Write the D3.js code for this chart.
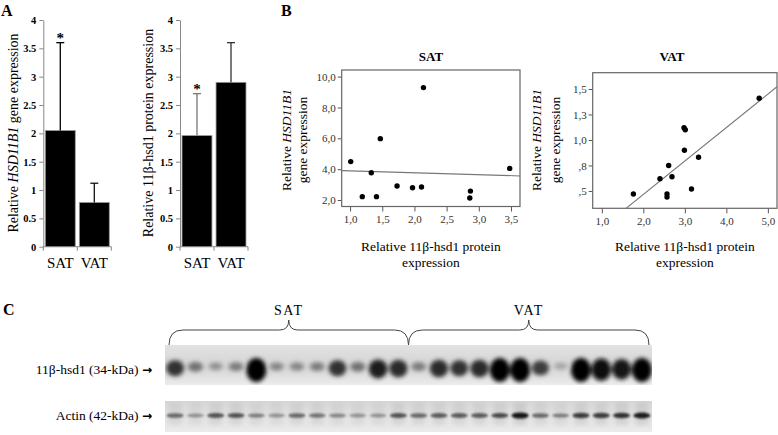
<!DOCTYPE html>
<html>
<head>
<meta charset="utf-8">
<script src="https://cdn.jsdelivr.net/npm/d3@7"></script>
<style>
  body { margin: 0; background: #fff; }
  svg { display: block; }
  text { font-family: 'Liberation Serif', 'Times New Roman', serif; }
  tspan.arrow { font-family: 'DejaVu Sans', sans-serif; font-weight: bold; }
</style>
</head>
<body>
<svg id="fig" width="778" height="435"></svg>
<script>
// ---- panel A : bar values (mean and top of error bar)
const barGroups = ['SAT', 'VAT'];
const geneMean = [2.05, 0.78];
const geneErrTop = [3.6, 1.12];
const proteinMean = [1.96, 2.9];
const proteinErrTop = [2.7, 3.6];
const barTicks = [0, 0.5, 1, 1.5, 2, 2.5, 3, 3.5, 4];

// ---- panel B : scatter points (protein, gene) and fitted lines [intercept, slope]
const satProtein = [1.01, 1.19, 1.33, 1.41, 1.47, 1.73, 1.97, 2.11, 2.14, 2.86, 2.87, 3.48];
const satGene    = [4.49, 2.22, 3.77, 2.22, 5.98, 2.91, 2.80, 2.84, 9.29, 2.13, 2.58, 4.05];
const vatProtein = [1.76, 2.40, 2.61, 2.69, 2.57, 2.57, 2.99, 2.98, 3.01, 3.16, 3.33, 4.79];
const vatGene    = [0.47, 0.62, 0.75, 0.64, 0.47, 0.44, 0.90, 1.12, 1.10, 0.52, 0.83, 1.41];
const satFit = [4.01, -0.123];
const vatFit = [-0.19, 0.328];
const satXTicks = [1.0, 1.5, 2.0, 2.5, 3.0, 3.5];
const satYTicks = [2, 4, 6, 8, 10];
const vatXTicks = [1, 2, 3, 4, 5];
const vatYTicks = [0.5, 0.75, 1.0, 1.25, 1.5];

// ---- panel C : band darkness per lane (12 SAT then 12 VAT)
const laneGroups = ['SAT', 'VAT'];
const hsdBand   = [0.75, 0.45, 0.3, 0.4, 1.0, 0.35, 0.35, 0.4, 0.75, 0.45, 0.85, 0.8,
                   0.4, 0.8, 0.75, 0.8, 1.0, 1.0, 0.7, 0.2, 1.0, 0.95, 0.9, 1.0];
const actinBand = [0.5, 0.3, 0.6, 0.6, 0.4, 0.3, 0.5, 0.45, 0.35, 0.3, 0.3, 0.6,
                   0.5, 0.55, 0.55, 0.55, 0.65, 0.9, 0.5, 0.4, 0.7, 0.7, 0.75, 0.85];

const svg = d3.select('#fig');
svg.append('rect').attr('width', 778).attr('height', 435).attr('fill', '#fff');

const spss = v => d3.format('.1f')(v).replace('.', ',').replace(/^0,/, ',');

function rotLabel(g, x, y, parts, size) {
    const t = g.append('text')
        .attr('transform', `translate(${x},${y}) rotate(-90)`)
        .attr('text-anchor', 'middle')
        .attr('font-size', size);
    parts.forEach(p => t.append('tspan').attr('font-style', p[1] ? 'italic' : null).text(p[0]));
    return t;
}

// panel letters
svg.append('text').attr('x', 1).attr('y', 16).attr('font-size', 16).attr('font-weight', 'bold').text('A');
svg.append('text').attr('x', 281).attr('y', 16).attr('font-size', 16).attr('font-weight', 'bold').text('B');
svg.append('text').attr('x', 3).attr('y', 315).attr('font-size', 16).attr('font-weight', 'bold').text('C');

// ================= A
const yBar = d3.scaleLinear().domain([0, 4]).range([246.7, 20]);

function drawBars(axisX, means, errTops, errColors, labelParts, labelX) {
    const g = svg.append('g');
    const x = d3.scaleBand()
        .domain(barGroups)
        .range([axisX + 1, axisX + 67])
        .paddingInner(0.12)
        .paddingOuter(0.03);

    const ya = g.append('g')
        .attr('transform', `translate(${axisX},0)`)
        .call(d3.axisLeft(yBar).tickValues(barTicks).tickSize(4).tickSizeOuter(0).tickPadding(3)
            .tickFormat(d => d));
    ya.select('.domain').attr('stroke', '#888');
    ya.selectAll('.tick line').attr('stroke', '#888');
    ya.selectAll('.tick text')
        .attr('font-size', 10.5)
        .attr('font-weight', 'bold')
        .attr('fill', '#000');

    // x axis line and boundary ticks
    g.append('line')
        .attr('x1', axisX).attr('x2', axisX + 68)
        .attr('y1', yBar(0)).attr('y2', yBar(0))
        .attr('stroke', '#888');
    const bounds = [axisX, x('VAT') - x.step() * x.paddingInner() / 2, axisX + 68];
    g.selectAll('.bt').data(bounds).join('line')
        .attr('x1', d => d).attr('x2', d => d)
        .attr('y1', yBar(0)).attr('y2', yBar(0) + 4)
        .attr('stroke', '#888');

    g.selectAll('.bar').data(barGroups).join('rect')
        .attr('x', d => x(d))
        .attr('width', x.bandwidth())
        .attr('y', (d, i) => yBar(means[i]))
        .attr('height', (d, i) => yBar(0) - yBar(means[i]))
        .attr('fill', '#000')
        .attr('stroke', '#999')
        .attr('stroke-width', 0.8);

    // error bars (upper only)
    barGroups.forEach((d, i) => {
        const cx = x(d) + x.bandwidth() / 2;
        g.append('line')
            .attr('x1', cx).attr('x2', cx)
            .attr('y1', yBar(means[i])).attr('y2', yBar(errTops[i]))
            .attr('stroke', errColors[i]).attr('stroke-width', 1.3);
        g.append('line')
            .attr('x1', cx - 4).attr('x2', cx + 4)
            .attr('y1', yBar(errTops[i])).attr('y2', yBar(errTops[i]))
            .attr('stroke', errColors[i]).attr('stroke-width', 1.3);
    });

    // significance star on SAT
    g.append('text')
        .attr('x', x('SAT') + x.bandwidth() / 2)
        .attr('y', yBar(errTops[0]) + 0.5)
        .attr('text-anchor', 'middle')
        .attr('font-size', 15)
        .attr('font-weight', 'bold')
        .text('*');

    g.selectAll('.cat').data(barGroups).join('text')
        .attr('x', d => x(d) + x.bandwidth() / 2)
        .attr('y', 268)
        .attr('text-anchor', 'middle')
        .attr('font-size', 15)
        .text(d => d);

    rotLabel(g, labelX, 133, labelParts, 14);
}

drawBars(43.3, geneMean, geneErrTop, ['#000', '#111'],
    [['Relative '], ['HSD11B1', true], [' gene expression']], 18);
drawBars(180, proteinMean, proteinErrTop, ['#777', '#333'],
    [['Relative 11β-hsd1 protein expression']], 153);

// ================= B
function drawScatter(o) {
    const g = svg.append('g');
    const x = d3.scaleLinear().domain(o.xDomain).range(o.xRange);
    const y = d3.scaleLinear().domain(o.yDomain).range(o.yRange);
    const id = 'clip' + o.title;

    g.append('clipPath').attr('id', id).append('rect')
        .attr('x', o.xRange[0]).attr('y', o.yRange[1])
        .attr('width', o.xRange[1] - o.xRange[0])
        .attr('height', o.yRange[0] - o.yRange[1]);

    const xa = g.append('g')
        .attr('transform', `translate(0,${o.yRange[0]})`)
        .call(d3.axisBottom(x).tickValues(o.xTicks).tickSize(5).tickSizeOuter(0).tickPadding(4).tickFormat(spss));
    const ya = g.append('g')
        .attr('transform', `translate(${o.xRange[0]},0)`)
        .call(d3.axisLeft(y).tickValues(o.yTicks).tickSize(4).tickSizeOuter(0).tickPadding(2).tickFormat(spss));
    [xa, ya].forEach(a => {
        a.select('.domain').remove();
        a.selectAll('.tick line').attr('stroke', '#555');
        a.selectAll('.tick text')
            .attr('font-size', 11)
            .attr('fill', '#333');
    });

    g.append('rect')
        .attr('x', o.xRange[0]).attr('y', o.yRange[1])
        .attr('width', o.xRange[1] - o.xRange[0])
        .attr('height', o.yRange[0] - o.yRange[1])
        .attr('fill', 'none')
        .attr('stroke', '#666')
        .attr('stroke-width', 1.2);

    const fx = o.xDomain;
    g.append('line')
        .attr('clip-path', `url(#${id})`)
        .attr('x1', x(fx[0])).attr('y1', y(o.fit[0] + o.fit[1] * fx[0]))
        .attr('x2', x(fx[1])).attr('y2', y(o.fit[0] + o.fit[1] * fx[1]))
        .attr('stroke', '#777')
        .attr('stroke-width', 1.1);

    g.selectAll('.dot').data(o.xs).join('circle')
        .attr('cx', d => x(d))
        .attr('cy', (d, i) => y(o.ys[i]))
        .attr('r', 2.7)
        .attr('fill', '#000');

    g.append('text')
        .attr('x', o.titleX).attr('y', 61)
        .attr('text-anchor', 'middle')
        .attr('font-size', 13)
        .attr('font-weight', 'bold')
        .text(o.title);

    rotLabel(g, o.yLabelX[0], 140, [['Relative '], ['HSD11B1', true]], 13.5);
    rotLabel(g, o.yLabelX[1], 140, [['gene expression']], 13.5);

    const cx = (o.xRange[0] + o.xRange[1]) / 2;
    g.append('text').attr('x', cx).attr('y', 251).attr('text-anchor', 'middle')
        .attr('font-size', 13.5).text('Relative 11β-hsd1 protein');
    g.append('text').attr('x', cx).attr('y', 267).attr('text-anchor', 'middle')
        .attr('font-size', 13.5).text('expression');
}

drawScatter({
    title: 'SAT', titleX: 431,
    xs: satProtein, ys: satGene, fit: satFit,
    xDomain: [0.87, 3.64], xRange: [341.7, 520],
    yDomain: [1.58, 10.43], yRange: [206.5, 70],
    xTicks: satXTicks, yTicks: satYTicks,
    yLabelX: [291, 307]
});
drawScatter({
    title: 'VAT', titleX: 672,
    xs: vatProtein, ys: vatGene, fit: vatFit,
    xDomain: [0.78, 5.22], xRange: [592.7, 777],
    yDomain: [0.33, 1.66], yRange: [208.3, 72.7],
    xTicks: vatXTicks, yTicks: vatYTicks,
    yLabelX: [541, 559.5]
});

// ================= C : western blot
const defs = svg.append('defs');
defs.append('filter').attr('id', 'blurBig').attr('x', '-50%').attr('y', '-50%').attr('width', '200%').attr('height', '200%')
    .append('feGaussianBlur').attr('stdDeviation', 2.2);
defs.append('filter').attr('id', 'blurSmall').attr('x', '-50%').attr('y', '-50%').attr('width', '200%').attr('height', '200%')
    .append('feGaussianBlur').attr('stdDeviation', 1.3);
defs.append('filter').attr('id', 'blurLane').append('feGaussianBlur').attr('stdDeviation', 2);
const grad = defs.append('linearGradient').attr('id', 'bgTop').attr('x1', 0).attr('x2', 0).attr('y1', 0).attr('y2', 1);
grad.append('stop').attr('offset', '0%').attr('stop-color', '#e2e2e2');
grad.append('stop').attr('offset', '55%').attr('stop-color', '#d4d4d4');
grad.append('stop').attr('offset', '100%').attr('stop-color', '#ececec');
const grad2 = defs.append('linearGradient').attr('id', 'bgAct').attr('x1', 0).attr('x2', 0).attr('y1', 0).attr('y2', 1);
grad2.append('stop').attr('offset', '0%').attr('stop-color', '#d6d6d6');
grad2.append('stop').attr('offset', '40%').attr('stop-color', '#e0e0e0');
grad2.append('stop').attr('offset', '100%').attr('stop-color', '#ebebeb');

const blotX = [165, 652];
const lane = d3.scaleBand().domain(d3.range(hsdBand.length)).range(blotX).padding(0);
const grey = v => d3.rgb(205 * (1 - v), 205 * (1 - v), 205 * (1 - v));

const blotTop = { y: 345, h: 40 };
const blotAct = { y: 401, h: 31 };

const gc = svg.append('g');
gc.append('rect').attr('x', blotX[0]).attr('y', blotTop.y).attr('width', blotX[1] - blotX[0]).attr('height', blotTop.h).attr('fill', 'url(#bgTop)');
gc.append('rect').attr('x', blotX[0]).attr('y', blotAct.y).attr('width', blotX[1] - blotX[0]).attr('height', blotAct.h).attr('fill', 'url(#bgAct)');

// faint lane streaks
gc.append('g').attr('filter', 'url(#blurLane)')
    .selectAll('rect').data(actinBand).join('rect')
    .attr('x', (d, i) => lane(i) + lane.bandwidth() * 0.2)
    .attr('width', lane.bandwidth() * 0.6)
    .attr('y', blotAct.y + 1).attr('height', blotAct.h - 8)
    .attr('fill', '#bdbdbd')
    .attr('opacity', d => 0.15 + 0.4 * d);

gc.append('g').attr('filter', 'url(#blurBig)')
    .selectAll('ellipse').data(hsdBand).join('ellipse')
    .attr('cx', (d, i) => lane(i) + lane.bandwidth() / 2)
    .attr('cy', d => 366 + 4 * d * d)
    .attr('rx', d => 5.5 + 4.5 * d)
    .attr('ry', d => 3 + 9 * d * d)
    .attr('fill', d => grey(d));

gc.append('g').attr('filter', 'url(#blurSmall)')
    .selectAll('ellipse').data(actinBand).join('ellipse')
    .attr('cx', (d, i) => lane(i) + lane.bandwidth() / 2)
    .attr('cy', 415.5)
    .attr('rx', 8.5)
    .attr('ry', d => 1.3 + 2 * d)
    .attr('fill', d => grey(d));

// white margins keep blurred bands inside the blot strips
gc.append('rect').attr('x', 150).attr('y', blotTop.y - 20).attr('width', blotX[0] - 150).attr('height', 130).attr('fill', '#fff');
gc.append('rect').attr('x', blotX[1]).attr('y', blotTop.y - 20).attr('width', 20).attr('height', 130).attr('fill', '#fff');
gc.append('rect').attr('x', 160).attr('y', blotTop.y + blotTop.h).attr('width', 500).attr('height', blotAct.y - blotTop.y - blotTop.h).attr('fill', '#fff');
gc.append('rect').attr('x', 160).attr('y', blotAct.y + blotAct.h).attr('width', 500).attr('height', 10).attr('fill', '#fff');

const l1 = gc.append('text').attr('x', 152).attr('y', 374).attr('text-anchor', 'end').attr('font-size', 13.5);
l1.append('tspan').text('11β-hsd1 (34-kDa) ');
l1.append('tspan').attr('class', 'arrow').attr('font-size', 12).text('\u2192');
const l2 = gc.append('text').attr('x', 152).attr('y', 420).attr('text-anchor', 'end').attr('font-size', 13.5);
l2.append('tspan').text('Actin (42-kDa) ');
l2.append('tspan').attr('class', 'arrow').attr('font-size', 12).text('\u2192');

// braces over each group of lanes
function brace(x1, x2, yb, ym, yt) {
    const xm = (x1 + x2) / 2, r = 14, r2 = 9;
    return `M${x1},${yb} Q${x1},${ym} ${x1 + r},${ym} L${xm - r2},${ym} Q${xm},${ym} ${xm},${yt}` +
        ` Q${xm},${ym} ${xm + r2},${ym} L${x2 - r},${ym} Q${x2},${ym} ${x2},${yb}`;
}
const per = hsdBand.length / laneGroups.length;
laneGroups.forEach((name, k) => {
    const x1 = lane(k * per) + (k === 0 ? 4 : 0);
    const x2 = lane((k + 1) * per - 1) + lane.bandwidth() - (k === 1 ? 3 : 0);
    gc.append('path')
        .attr('d', brace(x1, x2, 345, 330, 320))
        .attr('fill', 'none')
        .attr('stroke', '#444')
        .attr('stroke-width', 1);
    gc.append('text')
        .attr('x', (x1 + x2) / 2).attr('y', 315)
        .attr('text-anchor', 'middle')
        .attr('font-size', 14)
        .attr('letter-spacing', 1.5)
        .text(name);
});
</script>
</body>
</html>
